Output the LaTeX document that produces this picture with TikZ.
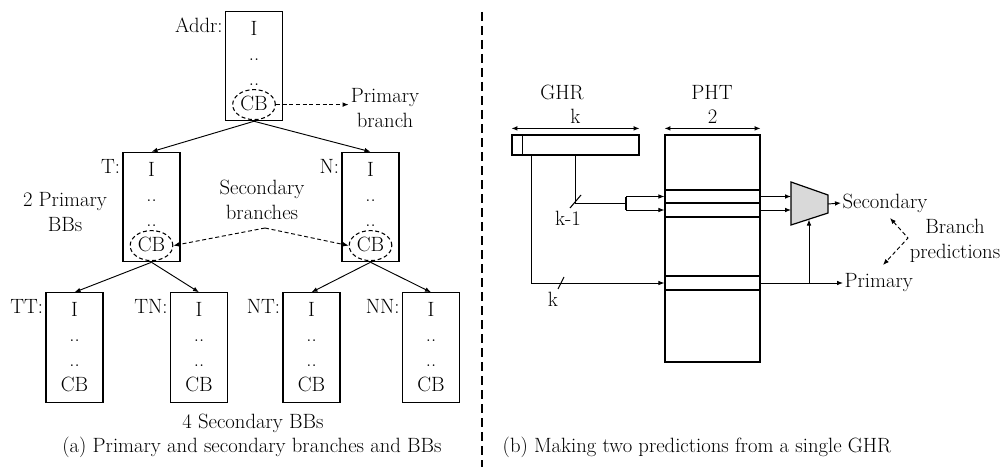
\documentclass[tikz,border=0pt]{standalone}
\usepackage{fontspec}
\usepackage{tikz}
\usetikzlibrary{positioning, calc, arrows.meta, shapes.geometric}

\begin{document}
\begin{tikzpicture}[
    x=0.75pt, y=-0.75pt,
    >={Latex[length=4.5pt, width=3.5pt]},
    font=\fontsize{15.5}{18.75}\selectfont,
    bb/.style={draw, line width=0.9pt, align=center, inner sep=0pt, minimum width=42.75pt, minimum height=82pt},
    cbring/.style={draw, ellipse, line width=0.8pt, dash pattern=on 3pt off 2pt, minimum width=32pt, minimum height=22.5pt, inner sep=0pt},
    bblabel/.style={anchor=north east, inner sep=1.5pt, yshift=-4pt},
    txt/.style={align=center, inner sep=1.5pt},
    flow/.style={->, line width=0.7pt},
    dflow/.style={->, line width=0.7pt, dash pattern=on 3pt off 2pt},
    wire/.style={line width=0.8pt},
    reg/.style={draw, line width=0.9pt, inner sep=0pt},
    mux/.style={draw, line width=0.9pt, fill=gray!30},
    divider/.style={line width=0.8pt, dash pattern=on 7pt off 3.5pt},
]
\useasboundingbox (0,0) rectangle (1007,467);

% (a) primary and secondary BBs
\node[bb] at (254,   66)    (bbA)  {I\\..\\..\\CB};
\node[bb] at (151.5, 207)   (bbT)  {I\\..\\..\\CB};
\node[bb] at (370.5, 207)   (bbN)  {I\\..\\..\\CB};
\node[bb] at (74.5,  347.5) (bbTT) {I\\..\\..\\CB};
\node[bb] at (199,   347.5) (bbTN) {I\\..\\..\\CB};
\node[bb] at (311.5, 347.5) (bbNT) {I\\..\\..\\CB};
\node[bb] at (431,   347.5) (bbNN) {I\\..\\..\\CB};

\foreach \b/\t in {bbA/Addr:, bbT/T:, bbN/N:, bbTT/TT:, bbTN/TN:, bbNT/NT:, bbNN/NN:}
    \node[bblabel] at (\b.north west) {\t};

\foreach \a/\b in {bbA/bbT, bbA/bbN, bbT/bbTT, bbT/bbTN, bbN/bbNT, bbN/bbNN}
    \draw[flow] (\a.south) -- (\b.north);

\node[cbring] at ([yshift=12.5pt]bbA.south) (cbA) {};
\node[cbring] at ([yshift=12.5pt]bbT.south) (cbT) {};
\node[cbring] at ([yshift=12.5pt]bbN.south) (cbN) {};

\node[txt] at (385, 108) (pbr) {Primary\\branch};
\draw[dflow] (cbA.east) -- (cbA.east -| pbr.west);

\node[txt] at (262, 200) (sbr) {Secondary\\branches};
\coordinate (secsplit) at (265, 228);
\draw[dflow] (secsplit) -- (cbT.east);
\draw[dflow] (secsplit) -- (cbN.west);

\node[txt] at (65, 212)  (pbbs) {2 Primary\\BBs};
\node[txt] at (253, 423) (sbbs) {4 Secondary BBs};
\node[txt] at (252, 447) (capa) {(a) Primary and secondary branches and BBs};

\coordinate (divtop) at (482, 12);
\coordinate (divbot) at (482, 467);
\draw[divider] (divtop) -- (divbot);

% (b) two predictions from one GHR
\node[reg, minimum width=95.25pt, minimum height=15pt]    at (575.5, 145)   (ghr) {};
\node[reg, minimum width=71.25pt, minimum height=170.25pt] at (712.5, 248.5) (pht) {};
\draw[wire] ($(ghr.north west)+(11,0)$) -- ($(ghr.south west)+(11,0)$);

\foreach \r/\y/\h in {row1/196.5/9.75pt, row2/210/10.5pt, row3/283/10.5pt}
    \node[reg, minimum width=71.25pt, minimum height=\h] at (712.5,\y) (\r) {};
\draw[line width=1.3pt] (row1.south west) -- (row1.south east);

\node at (562, 92) (ghrtitle) {GHR};
\node at (712, 92) (phttitle) {PHT};
\draw[<->, wire] ($(ghr.north west)+(0,-6)$) -- ($(ghr.north east)+(0,-6)$) node[midway, above] {k};
\draw[<->, wire] ($(pht.north west)+(0,-6)$) -- ($(pht.north east)+(0,-6)$) node[midway, above] {2};

% index bits
\draw[flow] ($(ghr.south west)+(20,0)$) |- (row3.west);
\coordinate (fork) at (626, 203.5);
\draw[wire] ($(ghr.south west)+(64,0)$) |- (fork);
\draw[wire] (fork |- row1.west) -- (fork |- row2.west);
\draw[flow] (fork |- row1.west) -- (row1.west);
\draw[flow] (fork |- row2.west) -- (row2.west);

\draw[wire] (558, 289) -- (564, 277);
\node at (553, 299) (klbl) {k};
\draw[wire] (570, 208) -- (581, 195);
\node at (568, 218) (k1lbl) {k-1};

% selector
\draw[mux] (791,182) coordinate (muxtl) -- (828,195) -- (828,213) -- (791,225) -- cycle;
\coordinate (muxout) at (828, 204);
\coordinate (muxsel) at (809, 219.5);
\draw[flow] (row1.east) -- (row1.east -| muxtl);
\draw[flow] (row2.east) -- (row2.east -| muxtl);

\node[anchor=west, inner sep=1pt] at (841, 203) (sec)  {Secondary};
\node[anchor=west, inner sep=1pt] at (843, 283) (prim) {Primary};
\draw[flow] (muxout) -- (sec.west);
\draw[flow] (row3.east) -- (prim.west);
\draw[flow] (muxsel |- row3.east) -- (muxsel);

\node[txt] at (955, 241) (bpred) {Branch\\predictions};
\coordinate (bpa) at (890, 218);
\coordinate (bpk) at (908, 238);
\coordinate (bpb) at (883, 265);
\draw[dflow, <->] (bpa) -- (bpk) -- (bpb);

\node[txt] at (697, 447) (capb) {(b) Making two predictions from a single GHR};
\end{tikzpicture}
\end{document}
